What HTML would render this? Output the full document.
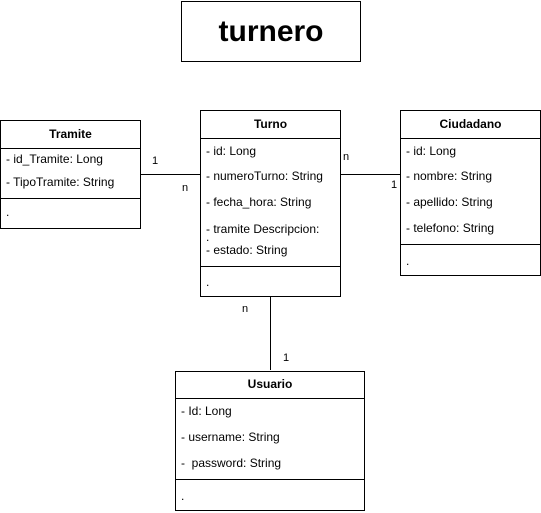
<!DOCTYPE html>
<html><head><style>
body{margin:0;width:541px;height:513px;background:#fff;position:relative;font-family:"Liberation Sans",Arial,sans-serif;font-size:12px;color:#000;overflow:hidden}
.b{position:absolute;border:1px solid #000;box-sizing:border-box;background:#fff}
.h{position:absolute;left:0;right:0;top:0;border-bottom:1px solid #000;font-weight:bold;text-align:center}
.s{position:absolute;left:0;right:0;border-top:1px solid #000}
.t{position:absolute;left:5px;white-space:nowrap}
.l{position:absolute;background:#000}
.lab{position:absolute;font-size:11px}
</style></head><body>
<div class="b" style="left:181px;top:1px;width:180px;height:61px;font-size:30px;font-weight:bold;text-align:center;line-height:59px">turnero</div>

<div class="l" style="left:140px;top:174px;width:60px;height:1px"></div>
<div class="l" style="left:340px;top:174px;width:60px;height:1px"></div>
<div class="l" style="left:270px;top:296px;width:1px;height:74px"></div>
<div class="lab" style="left:152px;top:155px">1</div>
<div class="lab" style="left:182px;top:182px">n</div>
<div class="lab" style="left:343px;top:151px">n</div>
<div class="lab" style="left:391px;top:179px">1</div>
<div class="lab" style="left:242px;top:303px">n</div>
<div class="lab" style="left:283px;top:352px">1</div>

<div class="b" style="left:0;top:120px;width:141px;height:109px">
<div class="h" style="height:27px;line-height:26px">Tramite</div>
<div class="t" style="top:31px">- id_Tramite: Long</div>
<div class="t" style="top:54px">- TipoTramite: String</div>
<div class="s" style="top:77px"></div>
<div class="t" style="top:84px">.</div>
</div>

<div class="b" style="left:200px;top:110px;width:141px;height:187px">
<div class="h" style="height:27px;line-height:26px">Turno</div>
<div class="t" style="top:33px">- id: Long</div>
<div class="t" style="top:58px">- numeroTurno: String</div>
<div class="t" style="top:84px">- fecha_hora: String</div>
<div class="t" style="top:111px">- tramite Descripcion:</div>
<div class="t" style="top:119px">.</div>
<div class="t" style="top:132px">- estado: String</div>
<div class="s" style="top:155px"></div>
<div class="t" style="top:164px">.</div>
</div>

<div class="b" style="left:400px;top:110px;width:141px;height:166px">
<div class="h" style="height:27px;line-height:26px">Ciudadano</div>
<div class="t" style="top:33px">- id: Long</div>
<div class="t" style="top:58px">- nombre: String</div>
<div class="t" style="top:84px">- apellido: String</div>
<div class="t" style="top:110px">- telefono: String</div>
<div class="s" style="top:133px"></div>
<div class="t" style="top:143px">.</div>
</div>

<div class="b" style="left:175px;top:371px;width:190px;height:140px">
<div class="h" style="height:26px;line-height:25px">Usuario</div>
<div class="t" style="top:32px">- Id: Long</div>
<div class="t" style="top:58px">- username: String</div>
<div class="t" style="top:84px">-&nbsp; password: String</div>
<div class="s" style="top:107px"></div>
<div class="t" style="top:117px">.</div>
</div>
</body></html>
